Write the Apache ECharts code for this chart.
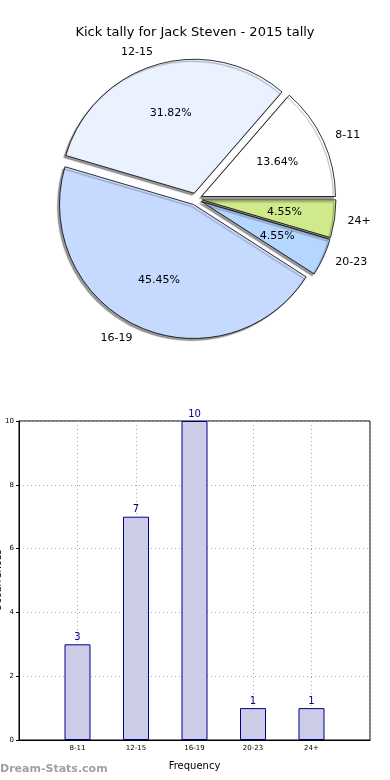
<!DOCTYPE html>
<html><head><meta charset="utf-8">
<script src="https://cdn.jsdelivr.net/npm/echarts@6/dist/echarts.min.js"></script>
<style>html,body{margin:0;padding:0;background:#fff}#c{width:390px;height:780px}</style>
</head><body><div id="c"></div>
<script>
const categories = ['8-11', '12-15', '16-19', '20-23', '24+'];
const counts = [3, 7, 10, 1, 1];
const sliceColors = ['#ffffff', '#eaf1ff', '#c6d9ff', '#b5d6ff', '#cfea8a'];
const yTicks = [0, 2, 4, 6, 8, 10];
const titleText = 'Kick tally for Jack Steven - 2015 tally';
const xName = 'Frequency';
const yName = 'Occurrences';
const watermark = 'Dream-Stats.com';

const total = counts.reduce((a, b) => a + b, 0);
const F = 'DejaVu Sans';
const R = 134;
const chart = echarts.init(document.getElementById('c'), null, {renderer: 'canvas'});

const pieData = categories.map((c, i) => ({
  name: c, value: counts[i], selected: true,
  itemStyle: {color: sliceColors[i]}
}));
const pctData = categories.map((c, i) => ({name: c, value: counts[i], selected: true}));

chart.setOption({
  animation: false,
  textStyle: {fontFamily: F},
  title: {text: titleText, left: 'center', top: 21, textStyle: {fontFamily: F, fontSize: 13, fontWeight: 'normal', color: '#000'}},
  grid: {left: 19, right: 20, top: 421, bottom: 40, outerBoundsMode: 'none', containLabel: false,
    show: true, borderColor: '#000', borderWidth: 1, backgroundColor: 'transparent'},
  xAxis: {
    type: 'value', min: -1, max: 5, interval: 1,
    name: xName, nameLocation: 'middle', nameGap: 21,
    nameTextStyle: {fontFamily: F, fontSize: 10, color: '#000'},
    axisLine: {show: true, onZero: false, lineStyle: {color: '#000'}},
    axisTick: {show: false},
    axisLabel: {fontFamily: F, fontSize: 7, color: '#000', margin: 5,
      formatter: v => (categories[v] !== undefined ? categories[v] : '')},
    splitLine: {show: true, lineStyle: {type: [1, 3], color: '#aaa'}}
  },
  yAxis: {
    type: 'value', min: yTicks[0], max: yTicks[yTicks.length - 1], interval: 2,
    name: yName, nameLocation: 'middle', nameGap: 15.5, nameRotate: 90, nameMoveOverlap: false,
    nameTextStyle: {fontFamily: F, fontSize: 10, color: '#000'},
    axisLine: {show: true, onZero: false, lineStyle: {color: '#000'}},
    axisTick: {show: true, length: 3, lineStyle: {color: '#000'}},
    axisLabel: {fontFamily: F, fontSize: 7, color: '#000', margin: 5},
    splitLine: {show: true, lineStyle: {type: [1, 3], color: '#aaa'}}
  },
  series: [
    {
      type: 'pie', center: [196, 199], radius: R,
      startAngle: 0, clockwise: false,
      selectedMode: 'multiple', selectedOffset: 6,
      avoidLabelOverlap: false, silent: true,
      itemStyle: {borderColor: '#000', borderWidth: 0.8,
        shadowColor: 'rgba(0,0,0,0.4)', shadowOffsetX: -2, shadowOffsetY: 2, shadowBlur: 1},
      label: {show: true, position: 'outside', fontFamily: F, fontSize: 11, color: '#000', formatter: '{b}', distanceToLabelLine: 0},
      labelLine: {show: false, length: 13, length2: 0},
      data: pieData,
      z: 2
    },
    {
      type: 'pie', center: [196, 199], radius: [0, R * 1.2],
      startAngle: 0, clockwise: false,
      selectedMode: 'multiple', selectedOffset: 6,
      avoidLabelOverlap: false, silent: true,
      itemStyle: {color: 'rgba(0,0,0,0)', borderWidth: 0},
      label: {show: true, position: 'inside', fontFamily: F, fontSize: 11, color: '#000',
        formatter: p => (p.value / total * 100).toFixed(2) + '%'},
      labelLine: {show: false},
      data: pctData,
      z: 3
    },
    {
      type: 'bar', barWidth: 26,
      data: counts.map((v, i) => [i, v]),
      itemStyle: {color: '#cccce6', borderColor: '#00008b', borderWidth: 1},
      label: {show: true, position: 'top', distance: 2, fontFamily: F, fontSize: 10, color: '#00008b'},
      silent: true
    }
  ],
  graphic: [{
    type: 'text', left: 0, top: 764,
    style: {text: watermark, font: 'bold 11px "DejaVu Sans"', fill: '#a0a0a0'}
  }]
});
</script></body></html>
